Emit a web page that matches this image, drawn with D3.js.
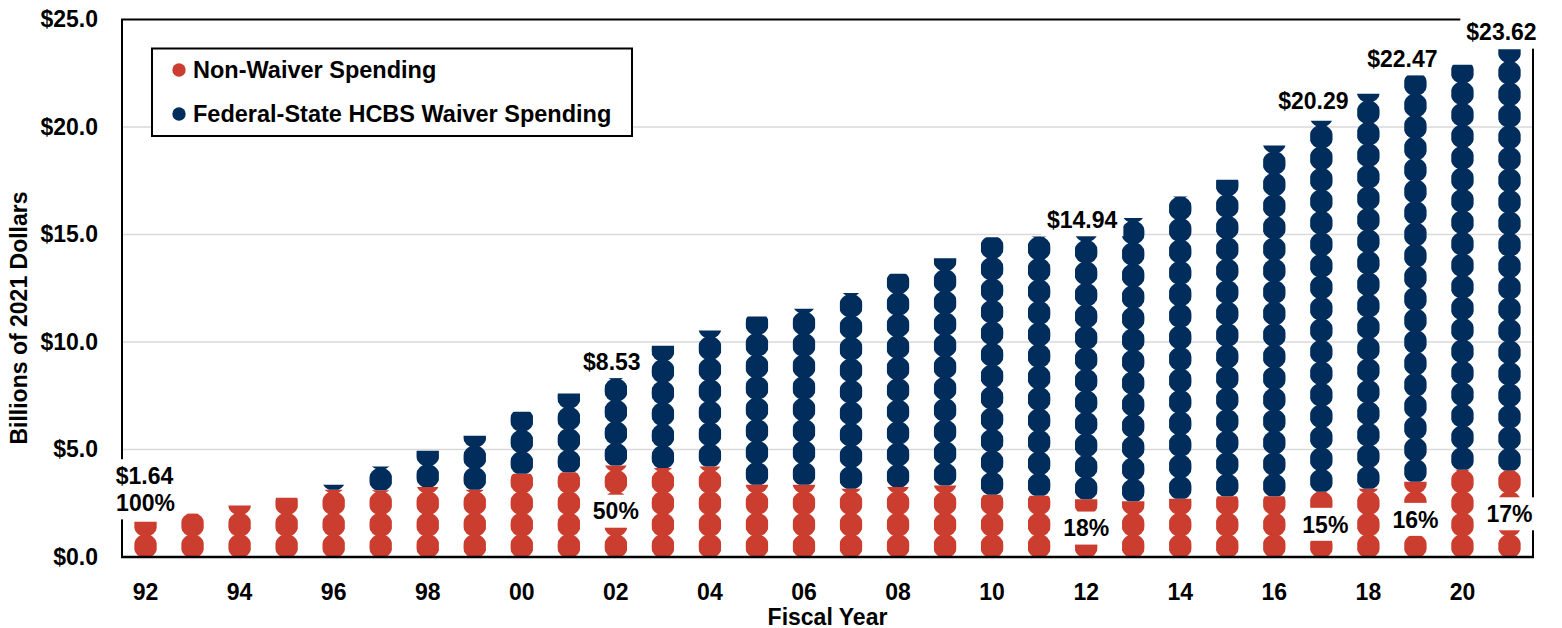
<!DOCTYPE html>
<html>
<head>
<meta charset="utf-8">
<script src="https://cdn.jsdelivr.net/npm/d3@7"></script>
<style>
  body { margin: 0; background: #fff; }
  svg { display: block; font-family: Arial, "Liberation Sans", sans-serif; font-weight: bold; }
</style>
</head>
<body>
<svg id="chart" width="1562" height="628"></svg>
<script>
// Fiscal years 1992-2021, billions of 2021 dollars
const years = d3.range(1992, 2022);
const nonWaiverSpending = [
  1.64, 2.01, 2.39, 2.76, 3.13, 3.10, 3.26, 3.13, 3.87, 3.94,
  4.26, 4.14, 4.21, 3.36, 3.36, 3.18, 3.26, 3.33, 2.90, 2.85,
  2.69, 2.59, 2.71, 2.82, 2.82, 3.04, 3.18, 3.50, 4.06, 4.02
];
const waiverSpending = [
  0.00, 0.00, 0.00, 0.00, 0.23, 1.11, 1.68, 2.51, 2.89, 3.66,
  4.27, 5.69, 6.32, 7.83, 8.19, 9.10, 9.92, 10.57, 11.97, 12.06,
  12.25, 13.18, 14.06, 14.73, 16.32, 17.25, 18.37, 18.97, 18.84, 19.60
];
const seriesNames = ["Non-Waiver Spending", "Federal-State HCBS Waiver Spending"];
const yTicks = [0, 5, 10, 15, 20, 25];
const labelledYears = [1992, 2002, 2012, 2017, 2019, 2021];

const colors = ["#cb3e2f", "#002d5c"];

// label nudges (px) from their default spots
const totalNudge = {
  1992: [-1, -46], 2002: [-4, -12], 2012: [-4, -16],
  2017: [-8, -20], 2019: [-13, -15], 2021: [-8, -17]
};
const shareNudge = { 1992: [0, -36.5], 2017: [4, 0] };

const plot = { left: 122, right: 1533, top: 19.5, bottom: 557 };
const fontSize = 23;

const svg = d3.select("#chart");

const x = d3
  .scaleBand()
  .domain(years)
  .range([plot.left, plot.right])
  .paddingInner(0.525)
  .paddingOuter(0.2625);

const y = d3.scaleLinear().domain([0, 25]).range([plot.bottom, plot.top]);

const bw = x.bandwidth();
const unitPx = y(0) - y(1);
// dot image is a bit bigger than its tile, so the sides get cut flat
const dotR = 11.9;

// Gridlines
svg
  .append("g")
  .selectAll("line")
  .data(yTicks.filter((t) => t > 0 && t < 25))
  .enter()
  .append("line")
  .attr("x1", plot.left)
  .attr("x2", plot.right)
  .attr("y1", (d) => y(d))
  .attr("y2", (d) => y(d))
  .attr("stroke", "#d9d9d9")
  .attr("stroke-width", 1.3);

// Stacked segments, each drawn as a stack of one-billion dots
const segments = [];
years.forEach((year, i) => {
  const nw = nonWaiverSpending[i];
  const w = waiverSpending[i];
  segments.push({ year, s: 0, base: 0, len: nw });
  if (w > 0) segments.push({ year, s: 1, base: nw, len: w });
});

const defs = svg.append("defs");
segments.forEach((seg) => {
  seg.id = `clip-${seg.year}-${seg.s}`;
  defs
    .append("clipPath")
    .attr("id", seg.id)
    .append("rect")
    .attr("x", x(seg.year))
    .attr("width", bw)
    .attr("y", y(seg.base + seg.len))
    .attr("height", y(seg.base) - y(seg.base + seg.len));
});

const segGroups = svg
  .append("g")
  .selectAll("g")
  .data(segments)
  .enter()
  .append("g")
  .attr("clip-path", (d) => `url(#${d.id})`)
  .attr("fill", (d) => colors[d.s]);

segGroups
  .selectAll("circle")
  .data((d) =>
    d3.range(Math.ceil(d.len - 1e-9)).map((k) => ({ year: d.year, v: d.base + k + 0.5 }))
  )
  .enter()
  .append("circle")
  .attr("cx", (d) => x(d.year) + bw / 2)
  .attr("cy", (d) => y(d.v))
  .attr("r", dotR);

// Plot frame
const frame = svg.append("g").attr("fill", "none").attr("stroke", "#000");
frame
  .append("path")
  .attr("d", `M${plot.left},${plot.bottom}V${plot.top}H${plot.right}V${plot.bottom}`)
  .attr("stroke-width", 2);
frame
  .append("line")
  .attr("x1", plot.left - 1)
  .attr("x2", plot.right + 1)
  .attr("y1", plot.bottom)
  .attr("y2", plot.bottom)
  .attr("stroke-width", 2.5);

// Axes
const yAxis = svg
  .append("g")
  .attr("transform", `translate(${plot.left},0)`)
  .call(
    d3
      .axisLeft(y)
      .tickValues(yTicks)
      .tickSize(0)
      .tickPadding(24)
      .tickFormat((d) => "$" + d.toFixed(1))
  );
yAxis.select(".domain").remove();

const xAxis = svg
  .append("g")
  .attr("transform", `translate(0,${plot.bottom})`)
  .call(
    d3
      .axisBottom(x)
      .tickValues(years.filter((yr) => yr % 2 === 0))
      .tickSize(0)
      .tickPadding(27)
      .tickFormat((yr) => String(yr).slice(2))
  );
xAxis.select(".domain").remove();

svg
  .selectAll(".tick text")
  .attr("font-size", fontSize)
  .attr("font-family", "Arial, 'Liberation Sans', sans-serif")
  .attr("font-weight", "bold")
  .attr("fill", "#000");

// Axis titles
svg
  .append("text")
  .attr("x", (plot.left + plot.right) / 2)
  .attr("y", 624.5)
  .attr("text-anchor", "middle")
  .attr("font-size", fontSize)
  .text("Fiscal Year");

svg
  .append("text")
  .attr("transform", "translate(18.5,318) rotate(-90)")
  .attr("dy", "0.36em")
  .attr("text-anchor", "middle")
  .attr("font-size", fontSize)
  .text("Billions of 2021 Dollars");

// Legend
const legend = svg.append("g");
legend
  .append("rect")
  .attr("x", 152)
  .attr("y", 48.5)
  .attr("width", 480)
  .attr("height", 87.5)
  .attr("fill", "#fff")
  .attr("stroke", "#000")
  .attr("stroke-width", 2);

const legendItems = legend
  .selectAll("g")
  .data(seriesNames)
  .enter()
  .append("g")
  .attr("transform", (d, i) => `translate(179,${70 + i * 44})`);
legendItems
  .append("circle")
  .attr("r", 6.7)
  .attr("fill", (d, i) => colors[i]);
legendItems
  .append("text")
  .attr("x", 14)
  .attr("dy", "0.35em")
  .attr("font-size", 23.5)
  .text((d) => d);

// Data labels with white boxes
const labelLayer = svg.append("g");

function addLabel(text, cx, cy) {
  const g = labelLayer.append("g");
  const t = g
    .append("text")
    .attr("x", cx)
    .attr("y", cy)
    .attr("dy", "0.36em")
    .attr("text-anchor", "middle")
    .attr("font-size", fontSize)
    .text(text);
  const tw = t.node().getComputedTextLength();
  g.insert("rect", "text")
    .attr("x", cx - tw / 2 - 6)
    .attr("y", cy - 16.5)
    .attr("width", tw + 12)
    .attr("height", 33)
    .attr("fill", "#fff");
}

labelledYears.forEach((year) => {
  const i = years.indexOf(year);
  const nw = nonWaiverSpending[i];
  const total = nw + waiverSpending[i];
  const cx = x(year) + bw / 2;

  const [sdx, sdy] = shareNudge[year] || [0, 0];
  addLabel(d3.format(".0%")(nw / total), cx + sdx, y(nw / 2) + sdy);

  const [tdx, tdy] = totalNudge[year] || [0, -16];
  addLabel("$" + total.toFixed(2), cx + tdx, y(total) + tdy);
});
</script>
</body>
</html>
